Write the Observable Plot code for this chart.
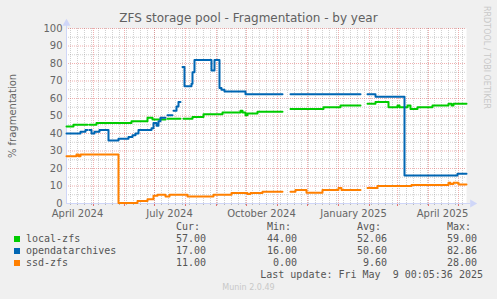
<!DOCTYPE html>
<html><head><meta charset="utf-8">
<script src="https://cdn.jsdelivr.net/npm/d3@7"></script>
<script src="https://cdn.jsdelivr.net/npm/@observablehq/plot@0.6"></script>
<style>
body{margin:0;background:#f0f0f0;}
#wrap{position:relative;width:497px;height:299px;overflow:hidden;background:#f0f0f0;font-family:"DejaVu Sans",sans-serif;color:#666;}
#title{position:absolute;top:11px;left:0;width:497px;text-align:center;font-size:12px;line-height:14px;color:#606060;}
#chart{position:absolute;top:0;left:0;}
#rrd{position:absolute;top:6px;left:482px;writing-mode:vertical-rl;font-size:8px;color:#c8c8c8;white-space:nowrap;}
.cell{position:absolute;font-family:"DejaVu Sans Mono",monospace;font-size:10px;line-height:12px;color:#555;white-space:pre;}
.box{position:absolute;width:6px;height:6px;}
#munin{position:absolute;top:283px;left:0;width:497px;text-align:center;font-size:8px;color:#c8c8c8;}
</style>
</head><body>
<div id="wrap">
  <div id="chart"></div>
  <div id="title">ZFS storage pool - Fragmentation - by year</div>
  <div id="rrd">RRDTOOL / TOBI OETIKER</div>
  <div id="legend"></div>
  <div id="munin">Munin 2.0.49</div>
</div>
<script>
// ---- data ----
const seriesNames = ["local-zfs", "opendatarchives", "ssd-zfs"];
const seriesColors = ["#00cc00", "#0066b3", "#ff8000"];
const curValues = [57.00, 17.00, 11.00];
const minValues = [44.00, 16.00, 0.00];
const avgValues = [52.06, 50.60, 9.60];
const maxValues = [59.00, 82.86, 28.00];
const lastUpdate = "Last update: Fri May  9 00:05:36 2025";

const periodStart = "2024-04-04T00:05:00Z";
const periodEnd = "2025-05-09T00:05:00Z";

const quarterLabels = ["April 2024", "July 2024", "October 2024", "January 2025", "April 2025"];
const quarterLabelDates = ["2024-04-15", "2024-07-16", "2024-10-16", "2025-01-16", "2025-04-15"];

// [date value starts, value]; null = no data from that date
const localZfs = [
  ["2024-04-04", 44], ["2024-04-11", 45], ["2024-04-25", null], ["2024-04-27", 45],
  ["2024-05-04", 46], ["2024-06-08", 47], ["2024-06-24", 49], ["2024-06-29", 48],
  ["2024-07-12", null], ["2024-07-14", 48.5], ["2024-07-19", null], ["2024-07-20", 48.5],
  ["2024-07-27", null], ["2024-07-30", 48.5], ["2024-08-08", 49.5], ["2024-08-19", 51],
  ["2024-09-07", 52], ["2024-09-25", 53], ["2024-09-27", 52], ["2024-09-30", 50.5],
  ["2024-10-02", 51.5], ["2024-10-12", 52.5], ["2024-11-06", null], ["2024-11-14", 54],
  ["2024-12-17", 55], ["2025-01-03", 56], ["2025-01-23", null], ["2025-01-30", 57],
  ["2025-02-07", 58], ["2025-02-20", 55], ["2025-03-01", 56], ["2025-03-03", 55],
  ["2025-03-11", 56], ["2025-03-14", 54], ["2025-03-21", 55], ["2025-04-05", 56],
  ["2025-04-21", 57], ["2025-04-24", 56], ["2025-04-26", 57]
];
const opendatarchives = [
  ["2024-04-04", 40], ["2024-04-18", 41], ["2024-04-23", 42], ["2024-04-25", null],
  ["2024-04-27", 42], ["2024-04-29", 40], ["2024-05-02", 41], ["2024-05-07", 42],
  ["2024-05-16", 36], ["2024-05-26", 37], ["2024-06-05", 38], ["2024-06-09", 39],
  ["2024-06-12", 40], ["2024-06-15", 42], ["2024-06-28", 43], ["2024-06-30", 46],
  ["2024-07-03", 44.5], ["2024-07-05", 47], ["2024-07-07", 49], ["2024-07-12", null],
  ["2024-07-14", 50.5], ["2024-07-19", null], ["2024-07-20", 53], ["2024-07-23", 55.5],
  ["2024-07-25", 58], ["2024-07-27", null], ["2024-07-29", 78], ["2024-07-31", 67],
  ["2024-08-07", 68.5], ["2024-08-08", 75], ["2024-08-10", 82], ["2024-08-27", 76],
  ["2024-08-30", 82], ["2024-09-04", 66], ["2024-09-06", 65], ["2024-09-09", 64],
  ["2024-09-30", 62.5], ["2024-11-06", null], ["2024-11-14", 62.5], ["2025-01-23", null],
  ["2025-01-30", 62.5], ["2025-02-07", 61], ["2025-03-08", 16], ["2025-04-30", 17]
];
const ssdZfs = [
  ["2024-04-04", 27], ["2024-04-14", 28], ["2024-04-16", 27], ["2024-04-18", 28],
  ["2024-05-26", 0.3], ["2024-06-14", 1.5], ["2024-06-24", 2.5], ["2024-06-30", 4.5],
  ["2024-07-04", 5], ["2024-07-12", 4], ["2024-07-16", 5], ["2024-08-03", 4],
  ["2024-08-29", 5], ["2024-09-16", 6], ["2024-10-02", 5.5], ["2024-10-05", 6],
  ["2024-10-17", 6.7], ["2024-11-06", null], ["2024-11-14", 6.7], ["2024-11-19", 7.7],
  ["2024-11-30", 6.2], ["2024-12-16", 7.7], ["2025-01-01", 8.9], ["2025-01-04", 7.7],
  ["2025-01-23", null], ["2025-01-30", 8.9], ["2025-02-09", 10], ["2025-03-15", 10.6],
  ["2025-04-21", 11.8], ["2025-04-23", 11.2], ["2025-04-26", 11.8], ["2025-05-01", 10.8]
];

// ---- build ----
const start = new Date(periodStart), end = new Date(periodEnd);
function toPoints(rows) {
  const out = [];
  rows.forEach(([d, v], i) => {
    const date = new Date(d + "T00:00:00Z");
    if (v === null) { out.push({date, value: null}); return; }
    out.push({date, value: v});
    const next = rows[i + 1];
    if (!next) out.push({date: end, value: v});
    else if (next[1] === null) out.push({date: new Date(next[0] + "T00:00:00Z"), value: v});
  });
  return out;
}
const seriesRows = [localZfs, opendatarchives, ssdZfs];

const months = d3.utcMonth.range(start, end);
const weeks = d3.utcMonday.range(start, end);
const majorY = d3.range(0, 101, 10);
const minorY = d3.range(5, 100, 10);
const labelDates = quarterLabelDates.map(d => new Date(d + "T00:00:00Z"));

const gridGray = "#8f8f8f", gridRed = "#de4f4f", axisCol = "#cfd6f8";

const chart = Plot.plot({
  width: 497, height: 222,
  marginLeft: 66, marginRight: 31, marginTop: 28, marginBottom: 19,
  style: {fontFamily: "DejaVu Sans, sans-serif", fontSize: "10px", color: "#666", background: "transparent", overflow: "visible"},
  x: {type: "utc", domain: [start, end]},
  y: {domain: [0, 100]},
  marks: [
    Plot.frame({fill: "#ffffff", stroke: null}),
    Plot.ruleY(minorY, {stroke: gridGray, strokeOpacity: 0.42, strokeDasharray: "1,1"}),
    Plot.ruleX(weeks, {stroke: gridGray, strokeOpacity: 0.42, strokeDasharray: "1,1"}),
    Plot.ruleY(majorY.slice(1), {stroke: gridRed, strokeOpacity: 0.45, strokeDasharray: "1,1"}),
    Plot.ruleX(months, {stroke: gridRed, strokeOpacity: 0.45, strokeDasharray: "1,1"}),
    Plot.axisY(majorY, {tickSize: 0, tickPadding: 4, fontSize: 10, label: "% fragmentation", labelAnchor: "center", labelArrow: "none", labelOffset: 58}),
    Plot.axisX(labelDates, {tickSize: 0, tickPadding: 6, fontSize: 10, label: null,
      tickFormat: d => quarterLabels[labelDates.findIndex(t => +t === +d)]}),
    Plot.axisX(weeks, {tickSize: 2, stroke: gridGray, strokeOpacity: 0.6, tickFormat: () => "", label: null}),
    Plot.axisX(months, {tickSize: 3, stroke: gridRed, strokeOpacity: 0.8, tickFormat: () => "", label: null}),
    Plot.ruleY([0], {stroke: axisCol, insetRight: -4}),
    Plot.ruleX([start], {stroke: axisCol, insetTop: -4}),
    Plot.dot([0], {y: d => d, frameAnchor: "right", dx: 6, symbol: "triangle", r: 3, rotate: 90, fill: axisCol, stroke: null}),
    Plot.dot([start], {x: d => d, frameAnchor: "top", dy: -5, symbol: "triangle", r: 3, fill: axisCol, stroke: null}),
    ...seriesRows.map((rows, i) => Plot.line(toPoints(rows), {
      x: "date", y: "value", stroke: seriesColors[i], strokeWidth: 2, curve: "step-after"
    }))
  ]
});
document.getElementById("chart").appendChild(chart);

// ---- legend ----
const legend = document.getElementById("legend");
function cell(text, left, top, right) {
  const el = document.createElement("div");
  el.className = "cell";
  el.textContent = text;
  el.style.top = top + "px";
  if (right !== undefined) { el.style.right = (497 - right) + "px"; el.style.textAlign = "right"; }
  else el.style.left = left + "px";
  legend.appendChild(el);
}
const colLeft = [176, 267, 357, 447];
const colRight = [206, 297, 387, 477];
["Cur:", "Min:", "Avg:", "Max:"].forEach((h, j) => cell(h, colLeft[j], 221));
seriesNames.forEach((name, i) => {
  const top = 233 + i * 12;
  const b = document.createElement("div");
  b.className = "box";
  b.style.left = "14px"; b.style.top = (top + 3) + "px";
  b.style.background = seriesColors[i];
  legend.appendChild(b);
  cell(name, 26, top);
  [curValues[i], minValues[i], avgValues[i], maxValues[i]].forEach((v, j) => cell(v.toFixed(2), 0, top, colRight[j]));
});
cell(lastUpdate, 0, 269, 483);
</script>
</body></html>
